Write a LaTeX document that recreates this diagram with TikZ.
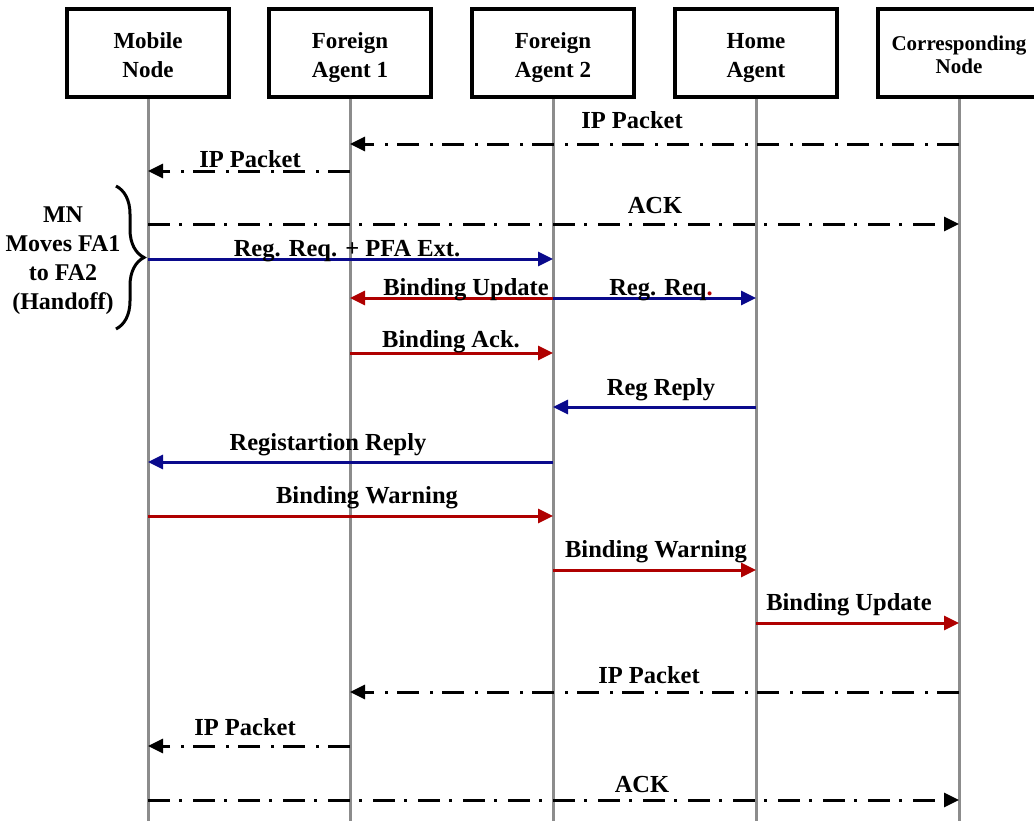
\documentclass[tikz,border=0pt]{standalone}
\usepackage{fontspec}
\setmainfont{Liberation Serif}
\usetikzlibrary{arrows.meta,decorations.pathreplacing}
\definecolor{msgblue}{RGB}{10,10,140}
\definecolor{msgred}{RGB}{175,0,0}
\definecolor{lifegray}{RGB}{140,140,140}
\newcommand{\twolines}[3]{\rule{0pt}{#1}\smash{#2}\\\smash{#3}}
\tikzset{
  actor/.style={draw=black, line width=3.5pt, minimum width=162pt, minimum height=88pt,
    align=center, inner sep=0pt, font=\fontsize{23}{29}\selectfont\bfseries},
  actorsmall/.style={actor, font=\fontsize{21}{23}\selectfont\bfseries},
  life/.style={draw=lifegray, line width=3pt},
  msg/.style={line width=3pt, -{Triangle[length=15pt,width=14pt]}},
  bluemsg/.style={msg, draw=msgblue, -{Triangle[length=15pt,width=14pt,fill=msgblue]}},
  redmsg/.style={msg, draw=msgred, -{Triangle[length=15pt,width=14pt,fill=msgred]}},
  ddmsg/.style={msg, draw=black, dash pattern=on 22pt off 9pt on 3pt off 11pt},
  lbl/.style={anchor=base, inner sep=0pt, font=\fontsize{24.5}{28}\selectfont\bfseries},
  notetext/.style={align=center, inner sep=0pt, font=\fontsize{24}{29}\selectfont\bfseries},
}
\begin{document}
\begin{tikzpicture}[x=1pt,y=-1pt]
\useasboundingbox (0,0) rectangle (1034,820);
\clip (0,0) rectangle (1034,820);
% actors
\node[actor] (mn)  at (148,53) {\twolines{19pt}{Mobile}{Node}};
\node[actor] (fa1) at (350,53) {\twolines{19pt}{Foreign}{Agent 1}};
\node[actor] (fa2) at (553,53) {\twolines{19pt}{Foreign}{Agent 2}};
\node[actor] (ha)  at (756,53) {\twolines{19pt}{Home}{Agent}};
\node[actorsmall] (cn) at (959,53) {\twolines{17pt}{Corresponding}{Node}};
\coordinate (bot) at (0,822);
% lifelines
\draw[life] (mn.south)  -- (mn.south |- bot);
\draw[life] (fa1.south) -- (fa1.south |- bot);
\draw[life] (fa2.south) -- (fa2.south |- bot);
\draw[life] (ha.south)  -- (ha.south |- bot);
\draw[life] (cn.south)  -- (cn.south |- bot);
% message rows
\coordinate (r1) at (0,144);
\coordinate (r2) at (0,171);
\coordinate (r3) at (0,224);
\coordinate (r4) at (0,259);
\coordinate (r5) at (0,298);
\coordinate (r6) at (0,353);
\coordinate (r7) at (0,407);
\coordinate (r8) at (0,462);
\coordinate (r9) at (0,516);
\coordinate (r10) at (0,570);
\coordinate (r11) at (0,623);
\coordinate (r12) at (0,692);
\coordinate (r13) at (0,746);
\coordinate (r14) at (0,800);
% messages
\draw[ddmsg] (cn |- r1) -- (fa1 |- r1);
\draw[ddmsg] (fa1 |- r2) -- (mn |- r2);
\draw[ddmsg] (mn |- r3) -- (cn |- r3);
\draw[bluemsg] (mn |- r4) -- (fa2 |- r4);
\draw[redmsg] (fa2 |- r5) -- (fa1 |- r5);
\draw[bluemsg] (fa2 |- r5) -- (ha |- r5);
\draw[redmsg] (fa1 |- r6) -- (fa2 |- r6);
\draw[bluemsg] (ha |- r7) -- (fa2 |- r7);
\draw[bluemsg] (fa2 |- r8) -- (mn |- r8);
\draw[redmsg] (mn |- r9) -- (fa2 |- r9);
\draw[redmsg] (fa2 |- r10) -- (ha |- r10);
\draw[redmsg] (ha |- r11) -- (cn |- r11);
\draw[ddmsg] (cn |- r12) -- (fa1 |- r12);
\draw[ddmsg] (fa1 |- r13) -- (mn |- r13);
\draw[ddmsg] (mn |- r14) -- (cn |- r14);
% labels
\node[lbl] (l1) at (632,128) {IP Packet};
\node[lbl] (l2) at (250,167) {IP Packet};
\node[lbl] (l3) at (655,213) {ACK};
\node[lbl] (l4) at (347,256) {Reg. Req. + PFA Ext.};
\node[lbl] (l5) at (466,295) {Binding Update};
\node[lbl] (l6) at (661,295) {Reg. Req\textcolor{msgred}{.}};
\node[lbl] (l7) at (451,347) {Binding Ack.};
\node[lbl] (l8) at (661,395) {Reg Reply};
\node[lbl] (l9) at (328,450) {Registartion Reply};
\node[lbl] (l10) at (367,503) {Binding Warning};
\node[lbl] (l11) at (656,557) {Binding Warning};
\node[lbl] (l12) at (849,610) {Binding Update};
\node[lbl] (l13) at (649,683) {IP Packet};
\node[lbl] (l14) at (245,735) {IP Packet};
\node[lbl] (l15) at (642,792) {ACK};
% handoff brace
\draw[line width=3pt, decorate, decoration={brace, amplitude=28pt, aspect=0.5}]
  (116,186) -- (116,329);
\node[notetext] (handoff) at (63,261) {MN\\Moves FA1\\to FA2\\(Handoff)};
\end{tikzpicture}
\end{document}
